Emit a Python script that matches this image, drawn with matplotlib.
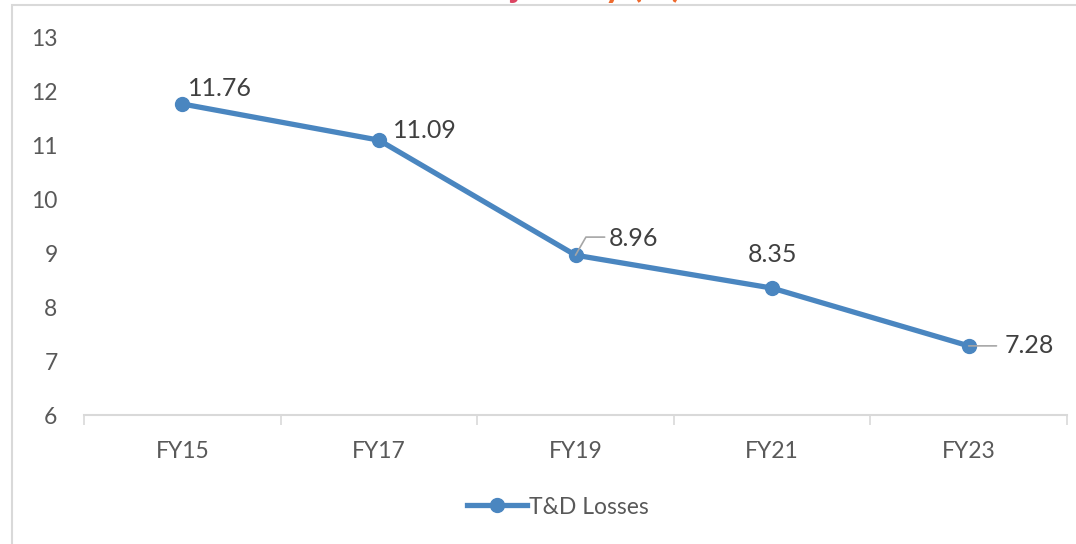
import matplotlib.pyplot as plt
from matplotlib.patches import Rectangle

plt.rcParams['font.family'] = ['Lato', 'DejaVu Sans']

years = ["FY15", "FY17", "FY19", "FY21", "FY23"]
losses = [11.76, 11.09, 8.96, 8.35, 7.28]
series_name = "T&D Losses"
title_a = "T&D Loss Traj"
title_b = "ectory (%)"

blue = "#4A86C0"
grey_txt = "#595959"
lbl_txt = "#404040"

fig = plt.figure(figsize=(10.76, 5.44), dpi=100)
W, H = 1076, 544

# chart frame (partly outside the picture)
fig.patches.append(Rectangle((12 / W, -0.1), 1.2, (544 - 5) / H + 0.1, transform=fig.transFigure,
                             fill=False, edgecolor="#D9D9D9", linewidth=1.5))

# title, only its lower part is visible (pink to orange)
fig.text(520 / W, 1 + 3 / H, title_a, ha="right", va="baseline", fontsize=26, fontweight="bold",
         color="#DC4462")
fig.text(520 / W, 1 + 3 / H, title_b, ha="left", va="baseline", fontsize=26, fontweight="bold",
         color="#EE6A2E")

ax = fig.add_axes([84 / W, (544 - 415) / H, (1067 - 84) / W, (415 - 37) / H])
x = list(range(len(years)))
line, = ax.plot(x, losses, color=blue, linewidth=3.8, marker="o", markersize=10,
                markerfacecolor=blue, markeredgecolor=blue, label=series_name, zorder=3)

ax.set_xlim(-0.5, len(years) - 0.5)
ax.set_ylim(6, 13)
ax.set_yticks(range(6, 14))
ax.set_xticks(x)
ax.set_xticklabels(years)
ax.set_xticks([i - 0.5 for i in range(len(years) + 1)], minor=True)
ax.tick_params(axis="x", which="major", length=0, pad=19, labelsize=16.5, labelcolor=grey_txt)
ax.tick_params(axis="x", which="minor", length=7, width=1.2, color="#D9D9D9", direction="out")
ax.tick_params(axis="y", length=0, pad=19, labelsize=16.5, labelcolor=grey_txt)

for s in ["top", "right", "left"]:
    ax.spines[s].set_visible(False)
ax.spines["bottom"].set_color("#D9D9D9")
ax.spines["bottom"].set_linewidth(1.5)

# data labels (offsets in points)
offsets = [(4, 11), (10, 7), (24, 12), (0, 24), (26, 0)]
aligns = ["left", "left", "left", "center", "left"]
for i, v in enumerate(losses):
    dx, dy = offsets[i]
    ax.annotate(f"{v:.2f}", (i, v), xytext=(dx, dy), textcoords="offset points",
                ha=aligns[i], va="center", fontsize=18, color=lbl_txt)

# leader lines
ax.annotate("", (2, losses[2]), xytext=(21, 13), textcoords="offset points",
            arrowprops=dict(arrowstyle="-", color="#A6A6A6", lw=1.2,
                            shrinkA=0, shrinkB=0, connectionstyle="angle,angleA=0,angleB=60,rad=0"))
ax.annotate("", (4, losses[4]), xytext=(20, 0), textcoords="offset points",
            arrowprops=dict(arrowstyle="-", color="#A6A6A6", lw=1.2, shrinkA=0, shrinkB=0))

fig.legend(handles=[line], loc="center", bbox_to_anchor=(558 / W, 1 - 507 / H), frameon=False,
           fontsize=16.5, labelcolor=grey_txt, handlelength=2.6, handletextpad=0.1)

fig.savefig("out.png", dpi=100)
